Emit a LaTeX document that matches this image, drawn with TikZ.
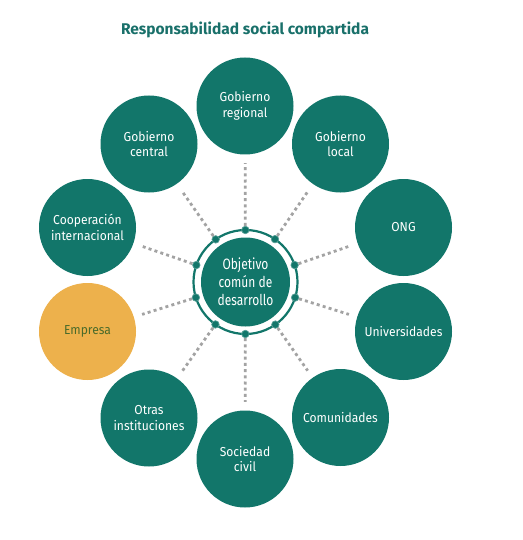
\documentclass[tikz,border=0pt]{standalone}
\usepackage{fontspec}
\setmainfont{Fira Sans}
\newfontfamily\narrowfont{Fira Sans}[FakeStretch=0.8]
\newfontfamily\circfont{Fira Sans}[FakeStretch=0.93]
\usetikzlibrary{calc}
\definecolor{teal1}{HTML}{12766A}
\definecolor{orng}{HTML}{EDB14C}
\definecolor{empt}{HTML}{4A6B2A}
\definecolor{dotgray}{HTML}{A3A3A3}
\definecolor{titlec}{HTML}{19706A}
\begin{document}
\begin{tikzpicture}[x=1pt,y=-1pt,
  actor/.style={circle, fill=teal1, minimum size=97pt, inner sep=0pt, text=white, align=center, font=\circfont\fontsize{13}{15.5}\selectfont},
  empresa/.style={actor, fill=orng, text=empt},
  ringdot/.style={circle, fill=teal1, draw=teal1!70, line width=0.7pt, minimum size=7.5pt, inner sep=0pt},
  link/.style={draw=dotgray, line width=2.8pt, dash pattern=on 3pt off 3.2pt, shorten >=8.5pt}]
\useasboundingbox (0,0) rectangle (522,540);
\node[anchor=base, text=titlec, font=\bfseries\fontsize{15.5}{18}\selectfont] (title) at (245,35) {Responsabilidad social compartida};
\node[circle, fill=teal1, minimum size=89pt, inner sep=0pt, text=white, align=center, font=\narrowfont\fontsize{15}{18}\selectfont] (C) at (245.5,282) {Objetivo\\común de\\desarrollo};
\draw[teal1, line width=2.2pt] (C.center) circle[radius=52];
\foreach \n/\p/\t/\s in {
  reg/{(245,106)}/{Gobierno\\regional}/actor,
  lcl/{(340.5,144)}/{Gobierno\\local}/actor,
  ong/{(403.5,227.5)}/{ONG}/actor,
  uni/{(403.5,331.5)}/{Universidades}/actor,
  com/{(340.5,417.5)}/{Comunidades}/actor,
  soc/{(245,459)}/{Sociedad\\civil}/actor,
  otr/{(149,418)}/{Otras\\instituciones}/actor,
  emp/{(87.5,331.5)}/{Empresa}/empresa,
  coop/{(87.5,227.5)}/{Cooperación\\internacional}/actor,
  cen/{(149,144)}/{Gobierno\\central}/actor}{
  \node[\s] (\n) at \p {\t};
  \node[ringdot] (d\n) at ($(C.center)!52pt!(\n.center)$) {};
  \draw[link] (d\n) -- (\n);
}
\end{tikzpicture}
\end{document}
